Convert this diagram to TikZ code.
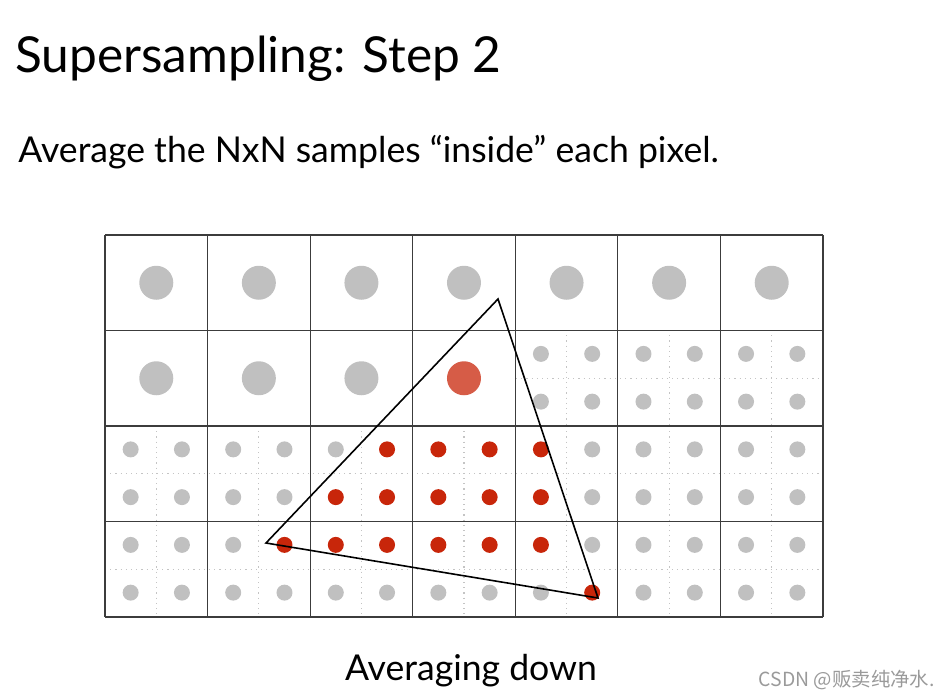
\documentclass[tikz,border=0pt]{standalone}
\usepackage{fontspec}
\setmainfont{Lato}
\newfontfamily\cjk{Noto Sans CJK SC}
\usetikzlibrary{calc}
\definecolor{punktg}{HTML}{C0C0C0}
\definecolor{punktr}{HTML}{C8260A}
\definecolor{mittelr}{HTML}{D65C47}
\definecolor{linie}{HTML}{3C3C3C}
\definecolor{hilfl}{HTML}{C4C4C4}
\definecolor{wasser}{HTML}{9A9A9A}
\tikzset{
  pixel/.style={linie,line width=0.6pt},
  unterteil/.style={hilfl,dotted,line width=0.6pt},
  gross/.style={fill=punktg},
  klein/.style={fill=punktg},
  rot/.style={fill=punktr},
  dreieck/.style={black,line width=0.8pt,line join=miter},
  titel/.style={anchor=base west,inner sep=0pt,font=\fontsize{24.8pt}{30pt}\selectfont},
  zeile/.style={anchor=base west,inner sep=0pt,font=\fontsize{17.8pt}{21pt}\selectfont},
}

\begin{document}
\begin{tikzpicture}[x=0.5pt,y=-0.5pt]
  \useasboundingbox (0,0) rectangle (950,698);
  % Texte
  \node[titel] (ueberschrift) at (15,72) {Supersampling: Step 2};
  \node[zeile] (auftrag) at (18,162) {Average the NxN samples “inside” each pixel.};
  \node[zeile,anchor=base] (unterschrift) at (471,680) {Averaging down};
  \node[anchor=base east,inner sep=0pt,wasser,font=\cjk\fontsize{9.7pt}{11pt}\selectfont]
    (wasserzeichen) at (935,686) {CSDN @贩卖纯净水.};
  % feine Unterteilung (2x2 pro Pixel)
  \foreach \i in {4,5,6}
    \draw[unterteil] ({105+(\i+0.5)*102.57},330) -- ({105+(\i+0.5)*102.57},426);
  \draw[unterteil] (516,378.25) -- (823,378.25);
  \foreach \i in {0,...,6}
    \draw[unterteil] ({105+(\i+0.5)*102.57},426) -- ({105+(\i+0.5)*102.57},617);
  \draw[unterteil] (105,473.75) -- (823,473.75);
  \draw[unterteil] (105,569.25) -- (823,569.25);
  % Pixelraster
  \foreach \i in {0,...,7}
    \draw[pixel] ({105+\i*102.57},235) -- ({105+\i*102.57},617);
  \foreach \j in {0,...,4}
    \draw[pixel] (105,{235+\j*95.5}) -- (823,{235+\j*95.5});
  % gemittelte Pixel
  \foreach \i in {0,...,6}
    \fill[gross] ({105+(\i+0.5)*102.57},282.75) circle[radius=8.5pt];
  \foreach \i in {0,1,2}
    \fill[gross] ({105+(\i+0.5)*102.57},378.25) circle[radius=8.5pt];
  \fill[mittelr] ({105+3.5*102.57},378.25) circle[radius=8.5pt];
  % Abtastpunkte: Zeile / erste Spalte / rot von / rot bis
  \foreach \m/\s/\a/\b in {0/8/99/99,1/8/99/99,2/0/5/8,3/0/4/8,4/0/3/8,5/0/9/9}
    \foreach \k in {\s,...,13} {
      \pgfmathtruncatemacro\istrot{and(\k>=\a,\k<=\b)}
      \ifnum\istrot=1
        \fill[rot] ({105+(\k+0.5)*51.285},{330+(\m+0.5)*47.75}) circle[radius=4pt];
      \else
        \fill[klein] ({105+(\k+0.5)*51.285},{330+(\m+0.5)*47.75}) circle[radius=4pt];
      \fi
    }
  % Dreieck
  \coordinate (spitze) at (498,299);
  \coordinate (links) at (266,543);
  \coordinate (rechts) at (598,598);
  \draw[dreieck] (spitze) -- (links) -- (rechts) -- cycle;
\end{tikzpicture}
\end{document}
